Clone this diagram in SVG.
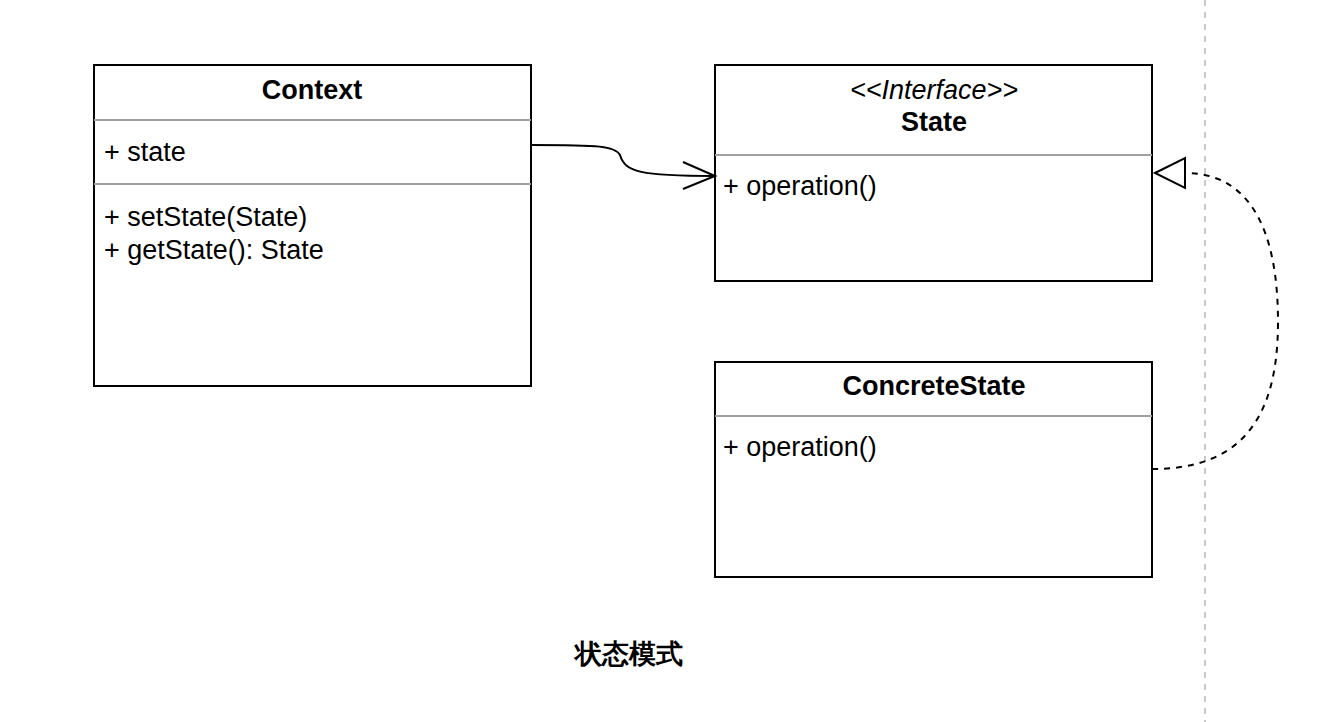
<svg xmlns="http://www.w3.org/2000/svg" width="1338" height="722" viewBox="0 0 1338 722">
<style>
.box{fill:#fff;stroke:#000;stroke-width:2}
.sep{stroke:#a0a0a0;stroke-width:2}
.t{font-family:"Liberation Sans",Arial,sans-serif;font-size:27px;fill:#000}
.b{font-weight:bold;text-anchor:middle}
.i{font-style:italic;text-anchor:middle}
.conn{fill:none;stroke:#000;stroke-width:2}
</style>
<rect width="1338" height="722" fill="#fff"/>
<line x1="1205" y1="0" x2="1205" y2="722" stroke="#c8c8c8" stroke-width="2" stroke-dasharray="6 6"/>
<g id="context">
<rect class="box" x="94" y="65" width="437" height="321"/>
<line class="sep" x1="94" y1="120" x2="531" y2="120"/>
<line class="sep" x1="94" y1="184" x2="531" y2="184"/>
<text class="t b" x="312" y="99">Context</text>
<text class="t" x="104" y="161">+ state</text>
<text class="t" x="104" y="226">+ setState(State)</text>
<text class="t" x="104" y="259">+ getState(): State</text>
</g>
<g id="state">
<rect class="box" x="715" y="65" width="437" height="216"/>
<line class="sep" x1="715" y1="155" x2="1152" y2="155"/>
<text class="t i" x="934" y="99">&lt;&lt;Interface&gt;&gt;</text>
<text class="t b" x="934" y="131">State</text>
<text class="t" x="723" y="195">+ operation()</text>
</g>
<g id="concretestate">
<rect class="box" x="715" y="362" width="437" height="215"/>
<line class="sep" x1="715" y1="416" x2="1152" y2="416"/>
<text class="t b" x="934" y="395">ConcreteState</text>
<text class="t" x="723" y="456">+ operation()</text>
</g>
<g id="connectors">
<path class="conn" d="M531 145 C600 145 615 146 620 155 C625 172 640 176 715 176"/>
<path class="conn" d="M683 162 L715 176 L683 189"/>
<path class="conn" stroke-dasharray="6 6" d="M1152 469 C1240 469 1278 420 1278 322 C1278 230 1250 173 1185 173"/>
<path class="conn" d="M1155 173 L1185 158 L1185 188 Z"/>
</g>
<text class="t b" x="629" y="663" font-family="'Liberation Sans','Noto Sans CJK SC',sans-serif">状态模式</text>
</svg>
